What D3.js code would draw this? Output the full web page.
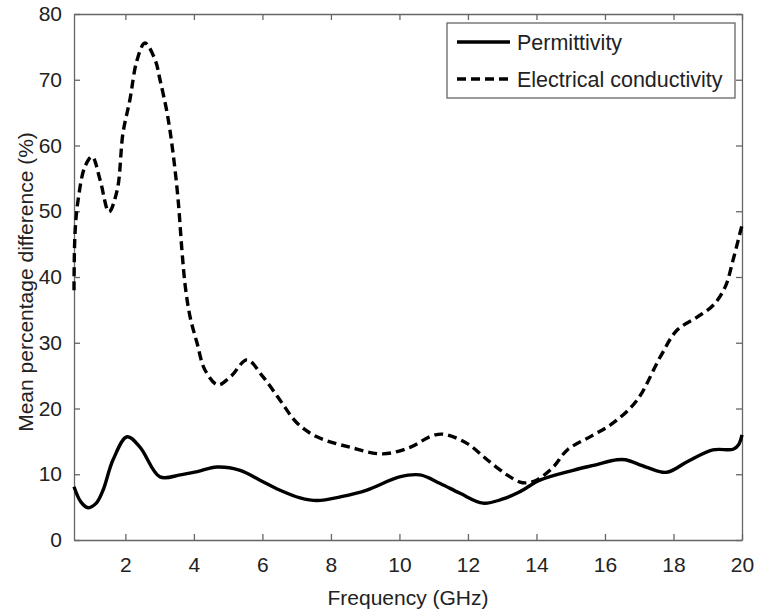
<!DOCTYPE html>
<html>
<head>
<meta charset="utf-8">
<script src="https://cdn.jsdelivr.net/npm/d3@7"></script>
<style>
  body { margin: 0; background: #fff; }
  text { font-family: "Liberation Sans", Arial, Helvetica, sans-serif; fill: #222; }
</style>
</head>
<body>
<svg id="chart"></svg>
<script>
// permittivity (solid)
var permFreq = [0.5, 0.7, 0.91, 1.15, 1.35, 1.64, 2.05, 2.43, 3.01, 3.6, 4.1, 4.67, 5.35, 5.93, 6.5, 7.1, 7.6, 8.3, 9.05, 10.0, 10.6, 11.19, 11.77, 12.44, 13.0, 13.5, 14.1, 15.07, 15.7, 16.35, 16.6, 17.2, 17.8, 18.4, 19.15, 19.74, 19.9, 20];
var permVal  = [8.1, 5.8, 4.9, 5.6, 7.6, 12.2, 15.7, 14.1, 9.6, 9.9, 10.4, 11.1, 10.6, 9.1, 7.6, 6.4, 6.0, 6.6, 7.6, 9.6, 9.9, 8.6, 7.1, 5.6, 6.2, 7.3, 9.1, 10.6, 11.4, 12.2, 12.2, 11.1, 10.3, 11.9, 13.7, 13.8, 14.5, 16.0];

// electrical conductivity (dashed)
var condFreq = [0.5, 0.53, 0.62, 0.82, 1.03, 1.26, 1.52, 1.76, 1.93, 2.13, 2.34, 2.57, 2.87, 3.01, 3.22, 3.39, 3.54, 3.65, 3.75, 3.89, 4.09, 4.32, 4.7, 5.1, 5.55, 6.02, 6.51, 7.01, 7.59, 8.56, 9.52, 10.31, 10.89, 11.27, 11.97, 12.56, 13.14, 13.52, 13.73, 14.0, 14.49, 14.9, 15.6, 16.24, 16.94, 17.61, 18.1, 18.69, 19.16, 19.51, 19.74, 20];
var condVal  = [38.0, 46.7, 51.7, 56.8, 58.3, 54.8, 49.9, 53.2, 61.9, 66.9, 73.0, 75.6, 73.0, 70.0, 64.9, 58.9, 51.7, 44.1, 38.5, 33.9, 30.0, 25.9, 23.6, 25.0, 27.4, 24.8, 21.3, 17.8, 15.7, 14.1, 13.1, 14.1, 15.7, 16.1, 14.7, 12.2, 9.9, 8.8, 8.7, 9.1, 11.1, 13.7, 15.8, 17.8, 21.3, 27.8, 31.9, 33.9, 35.7, 38.5, 42.6, 47.9];

var xTicks = [2, 4, 6, 8, 10, 12, 14, 16, 18, 20];
var yTicks = [0, 10, 20, 30, 40, 50, 60, 70, 80];
var seriesNames = ["Permittivity", "Electrical conductivity"];

var W = 757, H = 614;
var margin = {top: 14, right: 15, bottom: 74, left: 74};
var width = W - margin.left - margin.right,
    height = H - margin.top - margin.bottom;

var svg = d3.select("#chart").attr("width", W).attr("height", H);
var g = svg.append("g").attr("transform", "translate(" + margin.left + "," + margin.top + ")");

var x = d3.scaleLinear().domain([0.5, 20]).range([0, width]);
var y = d3.scaleLinear().domain([0, 80]).range([height, 0]);

var axisColor = "#666";
var fs = "21px";

// axes (ticks inward), plus top/right mirrors
g.append("g").attr("transform", "translate(0," + height + ")")
  .call(d3.axisBottom(x).tickValues(xTicks).tickSizeInner(-6).tickSizeOuter(0).tickPadding(17));
g.append("g")
  .call(d3.axisTop(x).tickValues(xTicks).tickSizeInner(-6).tickSizeOuter(0).tickFormat(""));
g.append("g")
  .call(d3.axisLeft(y).tickValues(yTicks).tickSizeInner(-6).tickSizeOuter(0).tickPadding(12));
g.append("g").attr("transform", "translate(" + width + ",0)")
  .call(d3.axisRight(y).tickValues(yTicks).tickSizeInner(-6).tickSizeOuter(0).tickFormat(""));

g.selectAll(".domain").attr("stroke", axisColor).attr("stroke-width", 1.3);
g.selectAll(".tick line").attr("stroke", axisColor).attr("stroke-width", 1.3);
g.selectAll(".tick text").style("font-size", fs).attr("fill", "#222")
  .attr("font-family", "Liberation Sans, Arial, sans-serif");

var line = d3.line()
  .x(function(d) { return x(d[0]); })
  .y(function(d) { return y(d[1]); })
  .curve(d3.curveCatmullRom.alpha(0.5));

var permData = permFreq.map(function(f, i) { return [f, permVal[i]]; });
var condData = condFreq.map(function(f, i) { return [f, condVal[i]]; });

g.append("path").datum(condData)
  .attr("d", line).attr("fill", "none")
  .attr("stroke", "#000").attr("stroke-width", 3.4)
  .attr("stroke-dasharray", "9,5");

g.append("path").datum(permData)
  .attr("d", line).attr("fill", "none")
  .attr("stroke", "#000").attr("stroke-width", 3.4);

// axis labels
svg.append("text")
  .attr("x", 408).attr("y", 605)
  .attr("text-anchor", "middle").style("font-size", fs)
  .text("Frequency (GHz)");

svg.append("text")
  .attr("transform", "translate(33," + 282 + ") rotate(-90)")
  .attr("text-anchor", "middle").style("font-size", fs)
  .text("Mean percentage difference (%)");

// legend
var leg = svg.append("g").attr("transform", "translate(447,23)");
leg.append("rect").attr("width", 288).attr("height", 75)
  .attr("fill", "#fff").attr("stroke", axisColor).attr("stroke-width", 1.3);

seriesNames.forEach(function(name, i) {
  var ly = 19 + i * 37;
  leg.append("line")
    .attr("x1", 10).attr("x2", 63).attr("y1", ly).attr("y2", ly)
    .attr("stroke", "#000").attr("stroke-width", 3.4)
    .attr("stroke-dasharray", i == 1 ? "9,5" : null);
  leg.append("text")
    .attr("x", 70).attr("y", ly + 8)
    .style("font-size", "21.5px")
    .text(name);
});
</script>
</body>
</html>
